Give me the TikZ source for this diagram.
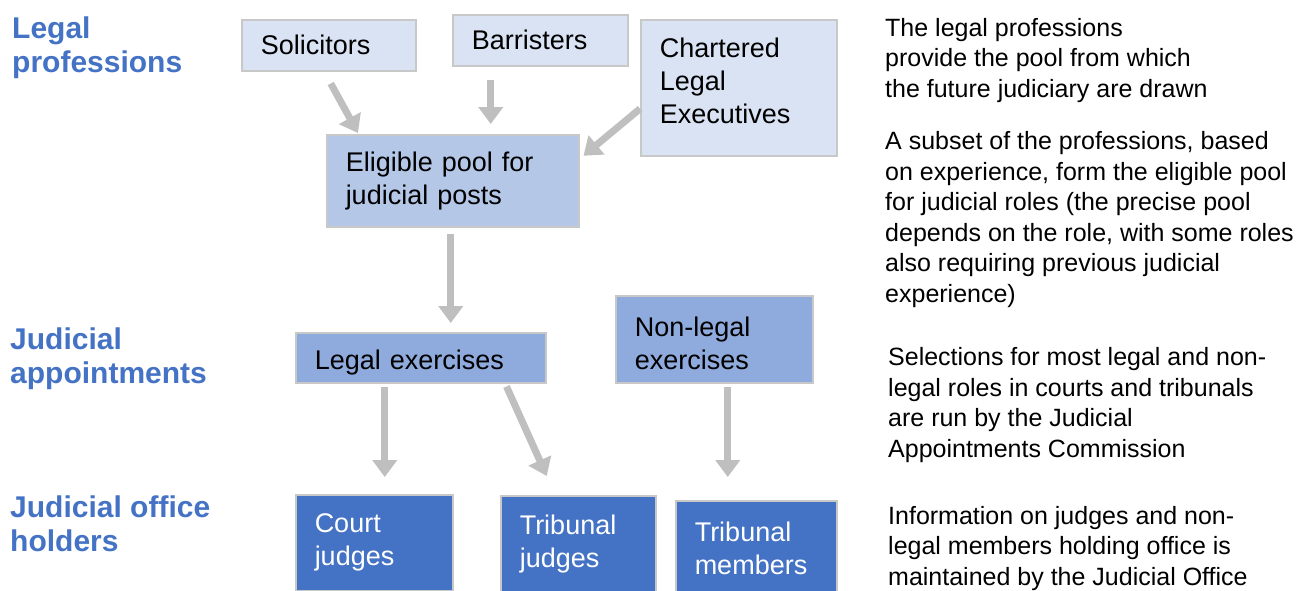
\documentclass[tikz,border=0pt]{standalone}
\usepackage{fontspec}
\setmainfont{Liberation Sans}
\usetikzlibrary{arrows.meta}
\definecolor{bleuclair}{HTML}{DAE3F3}
\definecolor{bleumoyen}{HTML}{B4C7E7}
\definecolor{bleuvif}{HTML}{8FAADC}
\definecolor{bleufonce}{HTML}{4472C4}
\definecolor{grisfleche}{HTML}{BFBFBF}
\definecolor{griscadre}{HTML}{C8C8C8}
\begin{document}
\begin{tikzpicture}[x=1pt,y=-1pt]
% Styles
\tikzstyle{boite}=[draw=griscadre,line width=1.5pt,anchor=north west,align=left,inner xsep=19pt,inner ysep=0pt,font=\fontsize{27}{33}\selectfont]
\tikzstyle{fleche}=[-{Triangle[width=24pt,length=17pt]},line width=7pt,grisfleche]
\tikzstyle{titre}=[anchor=base west,align=left,inner sep=0pt,text=bleufonce,font=\bfseries\fontsize{30}{34}\selectfont]
\tikzstyle{texte}=[anchor=base west,align=left,inner sep=0pt,font=\fontsize{25}{30.5}\selectfont]
% Cadre
\useasboundingbox (0,0) rectangle (1301,590);
% Titres (ancre sur la derniere ligne)
\node[titre] (tprof) at (12,72) {Legal\\professions};
\node[titre] (tnomi) at (10,383) {Judicial\\appointments};
\node[titre] (tcharge) at (10,551) {Judicial office\\holders};
% Professions
\node[boite,fill=bleuclair,text width=136pt,minimum height=51pt] (sol) at (241,19) {Solicitors};
\node[boite,fill=bleuclair,text width=137pt,minimum height=51pt] (barr) at (452,14) {Barristers};
\node[boite,fill=bleuclair,text width=158pt,minimum height=136pt,text depth=80pt] (chart) at (640,19) {Chartered\\Legal\\Executives};
\node[boite,fill=bleumoyen,text width=214pt,minimum height=92pt] (pool) at (326,134) {Eligible pool for\\judicial posts};
% Nominations
\node[boite,fill=bleuvif,text width=212pt,minimum height=50pt,text height=29.5pt] (legex) at (295,332) {Legal exercises};
\node[boite,fill=bleuvif,text width=159pt,minimum height=87pt,text height=27.7pt] (nonleg) at (615,295) {Non-legal\\exercises};
% Titulaires
\node[boite,fill=bleufonce,text=white,text width=119pt,minimum height=96pt] (court) at (295,494) {Court\\judges};
\node[boite,fill=bleufonce,text=white,text width=117pt,minimum height=96pt] (tribj) at (500,495) {Tribunal\\judges};
\node[boite,fill=bleufonce,text=white,text width=123pt,minimum height=96pt] (tribm) at (675,500) {Tribunal\\members};
% Fleches
\draw[fleche] ([xshift=2pt,yshift=-12pt]sol.south) -- ([xshift=32pt,yshift=1pt]pool.north west);
\draw[fleche,shorten >=10pt] ([xshift=-49.5pt,yshift=-13pt]barr.south) -- ([xshift=-49.5pt]barr.south |- pool.north);
\draw[fleche] ([yshift=-21pt]chart.west) -- ([xshift=4pt,yshift=25pt]pool.east);
\draw[fleche,shorten >=9pt] ([xshift=-2pt,yshift=-6pt]pool.south) -- ([xshift=-2pt]pool.south |- legex.north);
\draw[fleche,shorten >=17pt] ([xshift=-36pt,yshift=-3pt]legex.south) -- ([xshift=-36pt]legex.south |- court.north);
\draw[fleche] ([xshift=-40pt,yshift=-3pt]legex.south east) -- ([xshift=-31.5pt,yshift=19pt]tribj.north);
\draw[fleche,shorten >=23pt] ([xshift=13.5pt,yshift=-3pt]nonleg.south) -- ([xshift=13.5pt]nonleg.south |- tribm.north);
% Commentaires (ancre sur la derniere ligne)
\node[texte] (c1) at (885,97) {The legal professions\\provide the pool from which\\the future judiciary are drawn};
\node[texte] (c2) at (885,302) {A subset of the professions, based\\on experience, form the eligible pool\\for judicial roles (the precise pool\\depends on the role, with some roles\\also requiring previous judicial\\experience)};
\node[texte] (c3) at (888,457) {Selections for most legal and non-\\legal roles in courts and tribunals\\are run by the Judicial\\Appointments Commission};
\node[texte] (c4) at (888,585) {Information on judges and non-\\legal members holding office is\\maintained by the Judicial Office};
\end{tikzpicture}
\end{document}
